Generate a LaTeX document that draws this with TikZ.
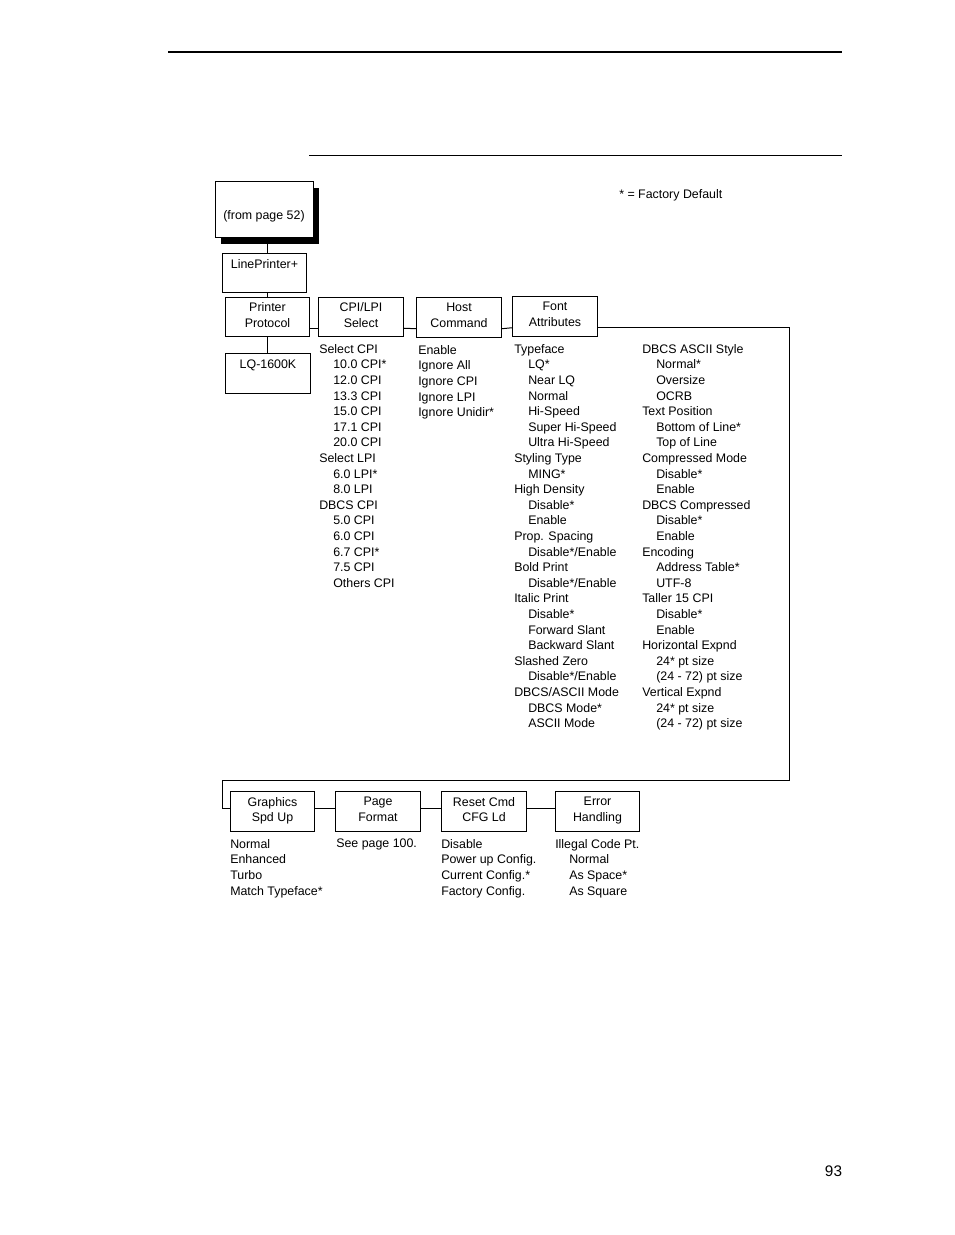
\documentclass[tikz,border=0pt]{standalone}
\usepackage{fontspec}
\setmainfont{Liberation Sans}
\usetikzlibrary{shadows}
\newcommand{\indt}{\hspace*{10.5pt}}

\begin{document}
\begin{tikzpicture}[x=0.75pt, y=-0.75pt, font=\fontsize{9.3}{11.7}\selectfont,
    menubox/.style={draw, line width=0.75pt, minimum width=63.5pt, minimum height=29.6pt, inner sep=0pt, align=center, text depth=3pt},
    topbox/.style={menubox, text height=7pt, text depth=13.9pt},
    optlist/.style={anchor=north west, inner sep=0pt, align=left},
    link/.style={line width=0.75pt}]
            \useasboundingbox (0,0) rectangle (954,1235);

            % page rules
            \draw[line width=1.5pt] (168,52) -- (842,52);
            \draw[line width=0.75pt] (309,155) -- (842,155);

            \node[anchor=west, inner sep=0pt] (legend) at (619,195) {* = Factory Default};
            \node[font=\fontsize{11.5}{14}\selectfont, inner sep=0pt] (pagenum) at (833.5,1171) {93};

            % menu boxes
            \node[draw, line width=0.75pt, fill=white, minimum width=73.5pt, minimum height=42pt, inner sep=0pt,
                  text height=17.6pt, text depth=2pt,
                  drop shadow={shadow xshift=4.5pt, shadow yshift=-5.25pt, fill=black, opacity=1}] (from) at (264,209) {(from page 52)};
            \node[topbox] (lp) at (264.5,273) {LinePrinter+};
            \node[menubox] (proto) at (267.5,317) {Printer\\Protocol};
            \node[menubox] (cpi) at (361,317) {CPI/LPI\\Select};
            \node[menubox] (host) at (459,317.5) {Host\\Command};
            \node[menubox] (font) at (555,316.5) {Font\\Attributes};
            \node[topbox] (lq) at (268,373.5) {LQ-1600K};

            \node[menubox] (gfx) at (272.5,811.5) {Graphics\\Spd Up};
            \node[menubox] (page) at (378,811.5) {Page\\Format};
            \node[menubox] (reset) at (484,811.5) {Reset Cmd\\CFG Ld};
            \node[menubox] (err) at (597.5,811.5) {Error\\Handling};

            % option lists
            \node[optlist] (cpiopts) at (319,344) {Select CPI\\ \indt 10.0 CPI*\\ \indt 12.0 CPI\\ \indt 13.3 CPI\\ \indt 15.0 CPI\\ \indt 17.1 CPI\\ \indt 20.0 CPI\\
                Select LPI\\ \indt 6.0 LPI*\\ \indt 8.0 LPI\\ DBCS CPI\\ \indt 5.0 CPI\\ \indt 6.0 CPI\\ \indt 6.7 CPI*\\ \indt 7.5 CPI\\ \indt Others CPI};
            \node[optlist] (hostopts) at (418,345) {Enable\\ Ignore All\\ Ignore CPI\\ Ignore LPI\\ Ignore Unidir*};
            \node[optlist] (fontopts) at (514,344) {Typeface\\ \indt LQ*\\ \indt Near LQ\\ \indt Normal\\ \indt Hi-Speed\\ \indt Super Hi-Speed\\ \indt Ultra Hi-Speed\\
                Styling Type\\ \indt MING*\\ High Density\\ \indt Disable*\\ \indt Enable\\ Prop. Spacing\\ \indt Disable*/Enable\\ Bold Print\\ \indt Disable*/Enable\\
                Italic Print\\ \indt Disable*\\ \indt Forward Slant\\ \indt Backward Slant\\ Slashed Zero\\ \indt Disable*/Enable\\ DBCS/ASCII Mode\\ \indt DBCS Mode*\\ \indt ASCII Mode};
            \node[optlist] (dbcsopts) at (642,344) {DBCS ASCII Style\\ \indt Normal*\\ \indt Oversize\\ \indt OCRB\\ Text Position\\ \indt Bottom of Line*\\ \indt Top of Line\\
                Compressed Mode\\ \indt Disable*\\ \indt Enable\\ DBCS Compressed\\ \indt Disable*\\ \indt Enable\\ Encoding\\ \indt Address Table*\\ \indt UTF-8\\
                Taller 15 CPI\\ \indt Disable*\\ \indt Enable\\ Horizontal Expnd\\ \indt 24* pt size\\ \indt (24 - 72) pt size\\ Vertical Expnd\\ \indt 24* pt size\\ \indt (24 - 72) pt size};
            \node[optlist] (gfxopts) at (230,839) {Normal\\ Enhanced\\ Turbo\\ Match Typeface*};
            \node[optlist] (pageopts) at (336,839) {See page 100.};
            \node[optlist] (resetopts) at (441,839) {Disable\\ Power up Config.\\ Current Config.*\\ Factory Config.};
            \node[optlist] (erropts) at (555,839) {Illegal Code Pt.\\ \indt Normal\\ \indt As Space*\\ \indt As Square};

            % connectors
            \coordinate (rturn) at (789,780);
            \coordinate (lturn) at (222,780);
            \draw[link] (from.south -| proto.north) -- (lp.north -| proto.north);
            \draw[link] (lp.south -| proto.north) -- (proto.north);
            \draw[link] (proto.south) -- (lq.north -| proto.south);
            \draw[link] ([yshift=6.75pt]proto.south east) -- ([yshift=6.75pt]cpi.south west);
            \draw[link] ([yshift=6.75pt]cpi.south east) -- ([yshift=6.75pt]host.south west);
            \draw[link] ([yshift=6.75pt]host.south east) -- ([yshift=6.75pt]font.south west);
            \draw[link] ([yshift=6.75pt]font.south east) -| (rturn) -- (lturn) |- ([yshift=1.9pt]gfx.west);
            \draw[link] ([yshift=1.9pt]gfx.east) -- ([yshift=1.9pt]page.west);
            \draw[link] ([yshift=1.9pt]page.east) -- ([yshift=1.9pt]reset.west);
            \draw[link] ([yshift=1.9pt]reset.east) -- ([yshift=1.9pt]err.west);
        \end{tikzpicture}
\end{document}
